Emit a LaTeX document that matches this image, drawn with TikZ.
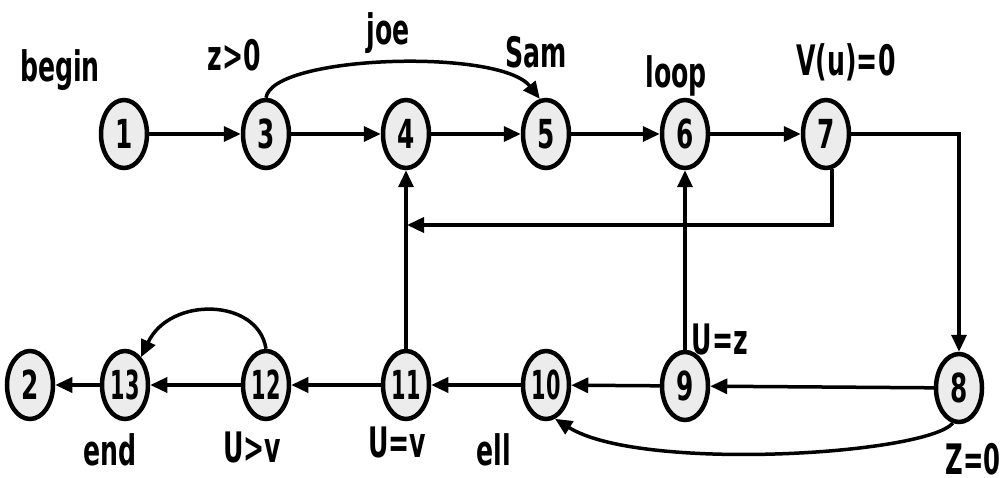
\documentclass[tikz,border=0pt]{standalone}
\usepackage{fontspec}
\setmainfont{DejaVu Sans}
\usetikzlibrary{shapes.geometric,arrows.meta}
\newcommand\sqz[2]{\scalebox{#1}[1]{#2}}
\begin{document}
\begin{tikzpicture}[x=1pt,y=-1pt,
  state/.style={ellipse,draw,line width=4.5pt,fill=gray!15,minimum width=46pt,minimum height=68pt,inner sep=0pt,font=\fontsize{40}{40}\selectfont\bfseries},
  lab/.style={font=\fontsize{42}{42}\selectfont\bfseries,inner sep=0pt},
  arr/.style={line width=3.5pt,-{Triangle[length=17pt,width=15pt]}},
  ln/.style={line width=3.5pt}]
\useasboundingbox[fill=white] (0,0) rectangle (1006,478);
% top row
\node[state] (n1) at (124,134) {\sqz{0.62}{1}};
\node[state] (n3) at (266,134) {\sqz{0.62}{3}};
\node[state] (n4) at (406,134) {\sqz{0.62}{4}};
\node[state] (n5) at (546,134) {\sqz{0.62}{5}};
\node[state] (n6) at (685,134) {\sqz{0.62}{6}};
\node[state] (n7) at (826,134) {\sqz{0.62}{7}};
% bottom row
\node[state] (n2) at (30,385) {\sqz{0.62}{2}};
\node[state] (n13) at (125,385) {\sqz{0.52}{13}};
\node[state] (n12) at (266,385) {\sqz{0.52}{12}};
\node[state] (n11) at (406,385) {\sqz{0.52}{11}};
\node[state] (n10) at (546,385) {\sqz{0.52}{10}};
\node[state] (n9) at (685,386) {\sqz{0.62}{9}};
\node[state] (n8) at (959,388) {\sqz{0.62}{8}};
% labels
\node[lab] (lbegin) at (60,70) {\sqz{0.6}{begin}};
\node[lab] (lz) at (234,55) {\sqz{0.6}{z>0}};
\node[lab] (ljoe) at (388,33) {\sqz{0.6}{joe}};
\node[lab] (lsam) at (536,52) {\sqz{0.6}{Sam}};
\node[lab] (lloop) at (676,76) {\sqz{0.6}{loop}};
\node[lab] (lvu) at (846,62) {\sqz{0.6}{V(u)=0}};
\node[lab] (lend) at (110,450) {\sqz{0.6}{end}};
\node[lab] (luv) at (252,447) {\sqz{0.6}{U>v}};
\node[lab] (lueq) at (397,442) {\sqz{0.6}{U=v}};
\node[lab] (lell) at (494,450) {\sqz{0.6}{ell}};
\node[lab] (luz) at (720,339) {\sqz{0.6}{U=z}};
\node[lab] (lz0) at (973,459) {\sqz{0.58}{Z=0}};
% connectors top
\draw[arr] (n1) -- (n3);
\draw[arr] (n3) -- (n4);
\draw[arr] (n4) -- (n5);
\draw[arr] (n5) -- (n6);
\draw[arr] (n6) -- (n7);
\draw[arr] (n3.north) .. controls (272,55) and (500,48) .. (n5.100);
\draw[arr] (n7.east) -| (n8.north);
\coordinate (j) at (407,225);
\draw[arr] (n7.-80) |- (j);
% verticals
\draw[arr] (n11) -- (n4);
\draw[arr] (n9) -- (n6);
% bottom row
\draw[arr] (n8) -- (n9);
\draw[arr] (n9) -- (n10);
\draw[arr] (n10) -- (n11);
\draw[arr] (n11) -- (n12);
\draw[arr] (n12) -- (n13);
\draw[arr] (n13) -- (n2);
\draw[arr] (n12.north) .. controls (258,298) and (170,296) .. (n13.60);
\draw[arr] (n8.-100) .. controls (925,455) and (640,472) .. (n10.-75);
\end{tikzpicture}
\end{document}
